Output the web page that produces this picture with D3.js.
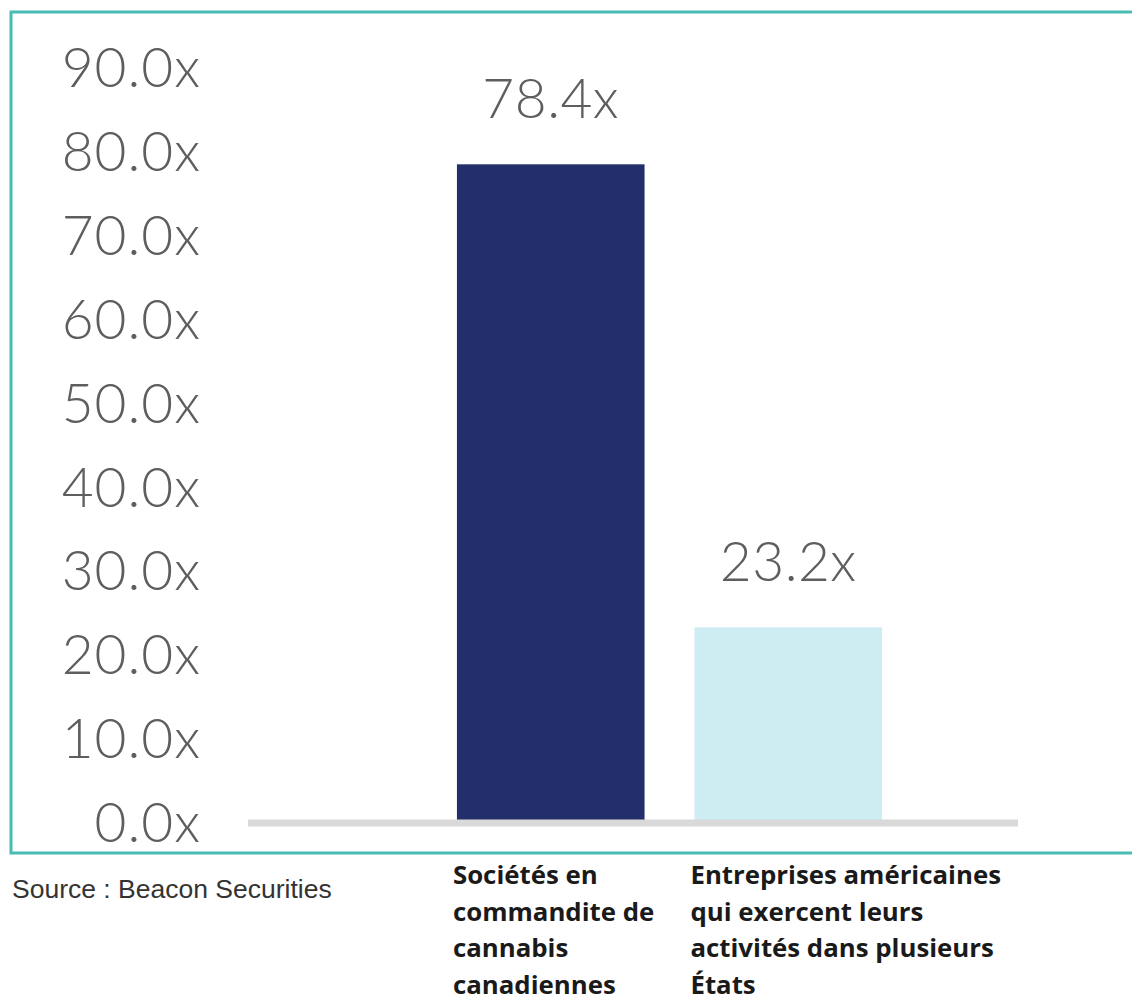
<!DOCTYPE html>
<html>
<head>
<meta charset="utf-8">
<script src="https://cdn.jsdelivr.net/npm/d3@7"></script>
<style>
  body { margin: 0; background: #fff; }
  svg { display: block; }
  .axis text { font-family: Lato, 'Open Sans', sans-serif; font-weight: 300; fill: #5e5e5e; letter-spacing: 1px; }
  .valueLabel { font-family: Lato, 'Open Sans', sans-serif; font-weight: 300; fill: #5e5e5e; letter-spacing: 0.5px; }
  .catLabel { font-family: 'Open Sans', 'Noto Sans', sans-serif; font-weight: 700; fill: #1a1a1a; }
  .source { font-family: 'Liberation Sans', Arial, sans-serif; fill: #333; }
</style>
</head>
<body>
<svg id="chart"></svg>
<script>
const categories = ['Sociétés en commandite de cannabis canadiennes',
                    'Entreprises américaines qui exercent leurs activités dans plusieurs États'];
const categoryLines = [['Sociétés en', 'commandite de', 'cannabis', 'canadiennes'],
                       ['Entreprises américaines', 'qui exercent leurs', 'activités dans plusieurs', 'États']];
const values = [78.4, 23.2];
const barColors = ['#232f6b', '#cdedf3'];
const yTicks = [0, 10, 20, 30, 40, 50, 60, 70, 80, 90];
const sourceText = 'Source : Beacon Securities';

const W = 1132, H = 1003;

const $svg = d3.select('#chart')
	.attr('width', W)
	.attr('height', H);

// teal frame (runs off the right edge)
$svg.append('rect')
	.attr('x', 11)
	.attr('y', 12)
	.attr('width', 1140)
	.attr('height', 841)
	.attr('fill', 'none')
	.attr('stroke', '#48bbb3')
	.attr('stroke-width', 3);

// scales
const scaleY = d3.scaleLinear()
	.domain([0, 90])
	.range([822, 67]);

const scaleX = d3.scaleBand()
	.domain(categories)
	.range([432, 907])
	.paddingInner(0.21)
	.paddingOuter(0.105);

// bars
$svg.selectAll('.bar')
	.data(values)
	.enter()
	.append('rect')
	.attr('class', 'bar')
	.attr('x', (d, i) => scaleX(categories[i]))
	.attr('y', d => scaleY(d))
	.attr('width', scaleX.bandwidth())
	.attr('height', d => scaleY(0) - scaleY(d))
	.attr('fill', (d, i) => barColors[i]);

// baseline
$svg.append('line')
	.attr('x1', 248)
	.attr('x2', 1018)
	.attr('y1', scaleY(0) + 1)
	.attr('y2', scaleY(0) + 1)
	.attr('stroke', '#d9d9d9')
	.attr('stroke-width', 7);

// y axis, labels only
const $yAxis = $svg.append('g')
	.attr('class', 'axis axis--y')
	.attr('transform', 'translate(205,2)')
	.call(d3.axisLeft(scaleY).tickValues(yTicks).tickSize(0).tickPadding(4).tickFormat(d => d3.format('.1f')(d) + 'x'));
$yAxis.select('.domain').remove();
$yAxis.selectAll('text').style('font-size', '55px');

// value labels
$svg.selectAll('.valueLabel')
	.data(values)
	.enter()
	.append('text')
	.attr('class', 'valueLabel')
	.attr('x', (d, i) => scaleX(categories[i]) + scaleX.bandwidth() / 2)
	.attr('y', d => scaleY(d) - 46)
	.attr('text-anchor', 'middle')
	.style('font-size', '55px')
	.text(d => d3.format('.1f')(d) + 'x');

// category labels below the frame
const $cats = $svg.selectAll('.catLabel')
	.data(categories)
	.enter()
	.append('text')
	.attr('class', 'catLabel')
	.attr('x', d => scaleX(d) - 4)
	.attr('y', 884)
	.style('font-size', '25.8px');

$cats.selectAll('tspan')
	.data((d, i) => categoryLines[i])
	.enter()
	.append('tspan')
	.attr('x', function() { return d3.select(this.parentNode).attr('x'); })
	.attr('dy', (d, i) => i === 0 ? 0 : 36.5)
	.text(d => d);

$svg.append('text')
	.attr('class', 'source')
	.attr('x', 12)
	.attr('y', 898)
	.style('font-size', '26.5px')
	.text(sourceText);
</script>
</body>
</html>
